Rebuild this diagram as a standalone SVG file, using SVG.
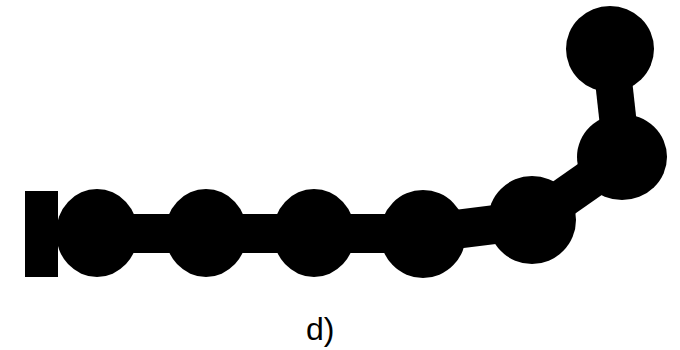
<svg xmlns="http://www.w3.org/2000/svg" width="680" height="350" viewBox="0 0 680 350">
<style>
.bead{fill:#000}
.link{stroke:#000;stroke-width:39;stroke-linecap:butt;fill:none}
.lbl{font-family:"Liberation Sans",Arial,sans-serif;font-size:32px;fill:#000}
</style>
<rect width="680" height="350" fill="#fff"/>
<g id="connectors">
<line class="link" x1="97" y1="233.5" x2="423" y2="233.5"/>
<line class="link" x1="423" y1="233.5" x2="532" y2="220"/>
<line class="link" x1="532" y1="220" x2="622" y2="157"/>
<line class="link" x1="622" y1="157" x2="610" y2="49" style="stroke-width:37"/>
</g>
<g id="wall"><rect x="25" y="191" width="33" height="86" fill="#000"/></g>
<g id="bead1"><ellipse class="bead" cx="97" cy="233" rx="41" ry="44"/></g>
<g id="bead2"><ellipse class="bead" cx="206" cy="233" rx="41" ry="44"/></g>
<g id="bead3"><ellipse class="bead" cx="314" cy="233" rx="41" ry="44"/></g>
<g id="bead4"><ellipse class="bead" cx="423" cy="234" rx="43" ry="44"/></g>
<g id="bead5"><ellipse class="bead" cx="532" cy="220" rx="44" ry="44"/></g>
<g id="bead6"><ellipse class="bead" cx="622" cy="157" rx="45" ry="43"/></g>
<g id="bead7"><ellipse class="bead" cx="610" cy="49" rx="44" ry="43"/></g>
<text class="lbl" x="306" y="340">d)</text>
</svg>
